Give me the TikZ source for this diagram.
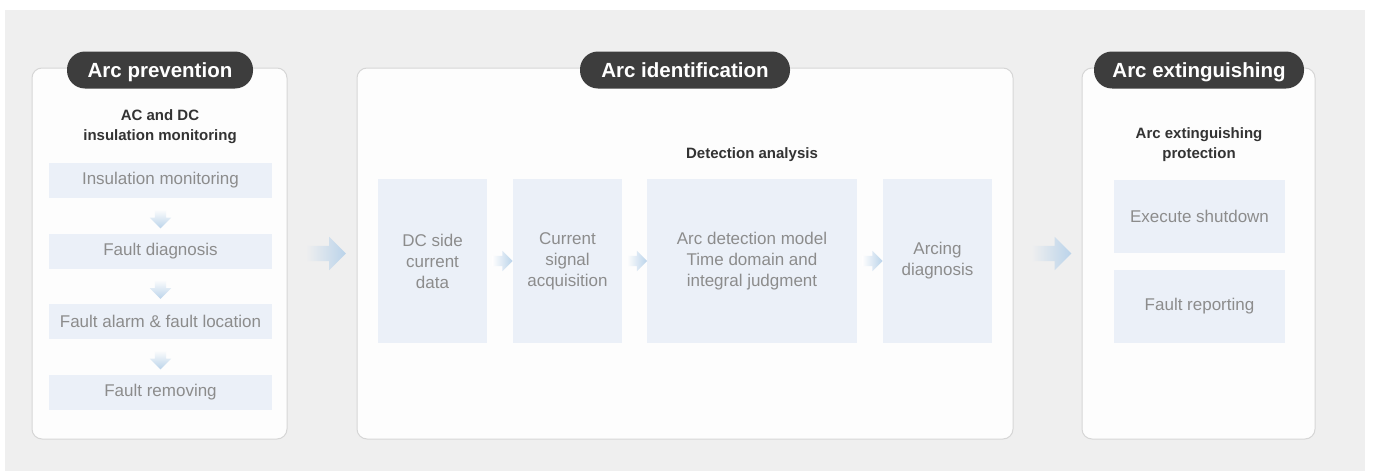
\documentclass[tikz,border=0pt]{standalone}
\usepackage{fontspec}
\setmainfont{Liberation Sans}
\usetikzlibrary{shapes.arrows}
\definecolor{bggray}{HTML}{EFEFEF}
\definecolor{panelfill}{HTML}{FDFDFD}
\definecolor{panelline}{HTML}{D6D6D6}
\definecolor{pilldark}{HTML}{3D3D3D}
\definecolor{stepfill}{HTML}{EBF0F8}
\definecolor{steptext}{HTML}{8C8C8C}
\definecolor{headtext}{HTML}{333333}
\definecolor{arrowblue}{HTML}{BAD3EA}
\tikzset{panel/.style={draw=panelline, line width=1pt, fill=panelfill,
        rounded corners=10pt, inner sep=0pt},
    pill/.style={fill=pilldark, text=white, rounded corners=18pt,
        minimum height=37pt, inner sep=0pt, text height=14.7pt, text depth=0pt,
        font=\fontsize{20.5}{24}\selectfont\bfseries},
    subhead/.style={text=headtext, align=center,
        font=\fontsize{15}{20}\selectfont\bfseries},
    stepbox/.style={fill=stepfill, text=steptext, align=center, inner sep=0pt,
        font=\fontsize{17}{21}\selectfont},
    bigarrow/.style={single arrow, minimum height=40pt, inner sep=7.5pt,
        single arrow head extend=9pt,
        left color=bggray, right color=arrowblue},
    smallarrow/.style={single arrow, minimum height=20pt, inner sep=5pt,
        single arrow head extend=5pt,
        left color=panelfill, right color=arrowblue},
    downarrow/.style={single arrow, shape border rotate=270, minimum height=19pt,
        inner sep=5.5pt, single arrow head extend=5pt,
        top color=panelfill, bottom color=arrowblue},
    }

\begin{document}
\begin{tikzpicture}[x=1pt,y=-1pt]
\useasboundingbox (0,0) rectangle (1373,471);
\fill[bggray] (5,10) rectangle (1365,471);
% panels
\node[panel, minimum width=255pt, minimum height=371pt] (prev) at (159.5,253.5) {};
\node[panel, minimum width=656pt, minimum height=371pt] (ident) at (685,253.5) {};
\node[panel, minimum width=233pt, minimum height=371pt] (ext) at (1198.5,253.5) {};
\node[pill, minimum width=186pt] (prevtitle) at (160,70) {Arc prevention};
\node[pill, minimum width=210pt] (identtitle) at (685,70) {Arc identification};
\node[pill, minimum width=210pt] (exttitle) at (1199,70) {Arc extinguishing};
% arc prevention
\node[subhead] (prevhead) at (160,127) {AC and DC\\insulation monitoring};
\node[stepbox, minimum width=223pt, minimum height=35pt] (ins) at (160.5,180.5) {Insulation monitoring};
\node[stepbox, minimum width=223pt, minimum height=35pt] (diag) at (160.5,251.5) {Fault diagnosis};
\node[stepbox, minimum width=223pt, minimum height=35pt] (alarm) at (160.5,321.5) {Fault alarm \& fault location};
\node[stepbox, minimum width=223pt, minimum height=35pt] (remove) at (160.5,392.5) {Fault removing};
\path (ins) -- (diag) node[midway, downarrow] (a1) {};
\path (diag) -- (alarm) node[midway, downarrow] (a2) {};
\path (alarm) -- (remove) node[midway, downarrow] (a3) {};
% arc identification
\node[subhead] (detecthead) at (752,155) {Detection analysis};
\node[stepbox, minimum width=109pt, minimum height=164pt] (dcdata) at (432.5,261) {DC side\\current\\data};
\node[stepbox, minimum width=109pt, minimum height=164pt] (acq) at (567.5,261) {Current\\signal\\acquisition};
\node[stepbox, minimum width=210pt, minimum height=164pt] (model) at (752,261) {Arc detection model\\Time domain and\\integral judgment};
\node[stepbox, minimum width=109pt, minimum height=164pt] (arcing) at (937.5,261) {Arcing\\diagnosis};
\path (dcdata) -- (acq) node[midway, smallarrow] (b1) {};
\path (acq) -- (model) node[midway, smallarrow] (b2) {};
\path (model) -- (arcing) node[midway, smallarrow] (b3) {};
% arc extinguishing
\node[subhead] (exthead) at (1199,144.5) {Arc extinguishing\\protection};
\node[stepbox, minimum width=171pt, minimum height=73pt] (shut) at (1199.5,216.5) {Execute shutdown};
\node[stepbox, minimum width=171pt, minimum height=73pt] (report) at (1199.5,306.5) {Fault reporting};
% between panels
\path (prev.east) -- (ident.west) node[midway, bigarrow] (c1) {};
\path (ident.east) -- (ext.west) node[midway, bigarrow] (c2) {};
\end{tikzpicture}
\end{document}
